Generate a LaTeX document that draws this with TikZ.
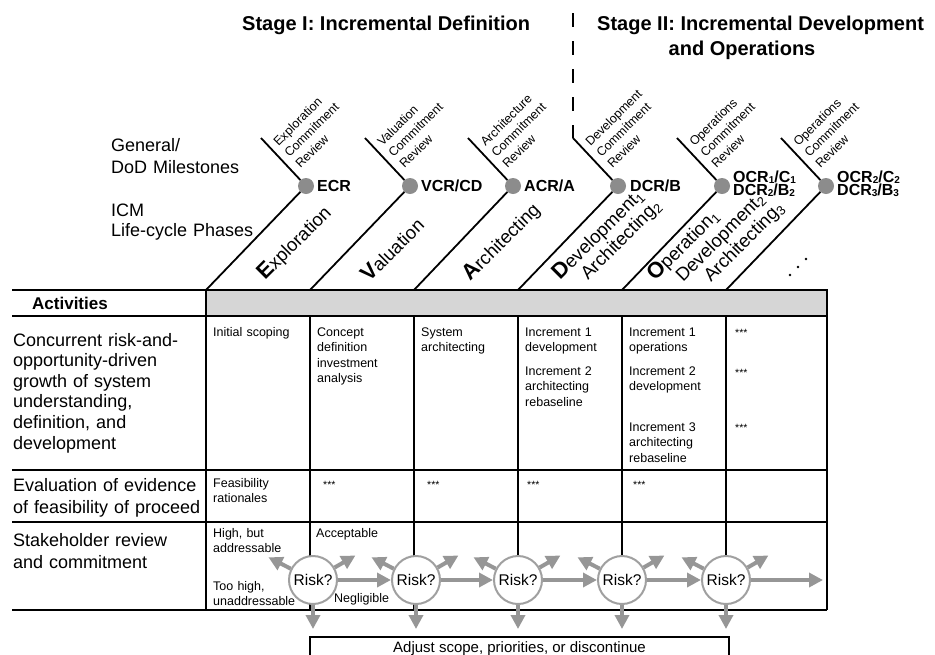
\documentclass[tikz,border=0pt]{standalone}
\usepackage{fontspec}
\setmainfont{Liberation Sans}
\usetikzlibrary{arrows.meta,calc}
\definecolor{agray}{RGB}{150,150,150}
\definecolor{cgray}{RGB}{160,160,160}
\definecolor{dgray}{RGB}{140,140,140}
\definecolor{bgray}{RGB}{214,214,214}
\newcommand\fsz[2]{\fontsize{#1}{#2}\selectfont}
\newcommand\firstl[1]{{\fsz{22}{22}\bfseries #1}}
\newcommand\msub[1]{\raisebox{-0.8pt}{\fsz{10}{10}\bfseries #1}}
\begin{document}
\begin{tikzpicture}[x=1pt,y=-1pt,
  tline/.style={line width=1.8pt,black},
  mline/.style={line width=1.8pt,black},
  mdot/.style={circle,fill=dgray,minimum size=16pt,inner sep=0pt},
  mlabel/.style={anchor=base west,inner sep=0pt,text width=80pt,align=left,font=\fsz{16}{12}\bfseries},
  mdesc/.style={rotate=45,anchor=north west,inner sep=0pt,text width=90pt,align=left,font=\fsz{12.5}{15.5}},
  phase/.style={rotate=45,anchor=base west,inner sep=0pt,font=\fsz{18.5}{20}},
  sidelab/.style={anchor=base west,inner sep=0pt,text width=150pt,align=left,font=\fsz{18}{21}},
  rowlab/.style={anchor=base west,inner sep=0pt,text width=192pt,align=left},
  cell/.style={anchor=base west,inner sep=0pt,text width=95pt,align=left,font=\fsz{12.5}{15.3}},
  stars/.style={anchor=base west,inner sep=0pt,font=\fsz{10.5}{12}},
  title/.style={inner sep=0pt,font=\fsz{20}{24}\bfseries},
  risk/.style={circle,draw=cgray,line width=2pt,fill=white,minimum size=48pt,inner sep=0pt,font=\fsz{15.5}{18}},
  garrow/.style={draw=agray,line width=4pt,-{Triangle[length=14pt,width=14pt]}},
]
\useasboundingbox (0,0) rectangle (935,654);

% titles
\node[title,anchor=base west] (st1) at (242,30.5) {Stage I: Incremental Definition};
\node[title,anchor=base west] (st2a) at (597,30.5) {Stage II: Incremental Development};
\node[title,anchor=base] (st2b) at (742,55) {and Operations};

% side labels
\node[sidelab] (gen) at (111,151.5) {General/\\[0.5pt]DoD Milestones};
\node[sidelab] (icm) at (111,216.5) {ICM\\[-1pt]Life-cycle Phases};

% table
\draw[tline,fill=bgray] (206,290) rectangle (827,316);
\draw[tline] (12,290) -- (206,290);
\draw[tline] (12,316) -- (827,316);
\draw[tline] (12,470) -- (827,470);
\draw[tline] (12,522) -- (827,522);
\draw[tline] (12,610) -- (827,610);
\draw[tline] (206,290) -- (206,610);
\draw[tline] (827,290) -- (827,610);
\foreach \x in {310,414,518,622,726} \draw[tline] (\x,316) -- (\x,610);

% milestone geometry
\coordinate (b1) at (206,290);
\coordinate (b2) at (310,290);
\coordinate (b3) at (414,290);
\coordinate (b4) at (518,290);
\coordinate (b5) at (622,290);
\coordinate (b6) at (726,290);
\node[mdot] (d1) at (306,186) {};
\node[mdot] (d2) at (410,186) {};
\node[mdot] (d3) at (513,186) {};
\node[mdot] (d4) at (618,186) {};
\node[mdot] (d5) at (722,186) {};
\node[mdot] (d6) at (826,186) {};
\coordinate (t1) at ($(d1)+(-45,-48)$);
\coordinate (t2) at ($(d2)+(-45,-48)$);
\coordinate (t3) at ($(d3)+(-45,-48)$);
\coordinate (t4) at ($(d4)+(-45,-48)$);
\coordinate (t5) at ($(d5)+(-45,-48)$);
\coordinate (t6) at ($(d6)+(-45,-48)$);
\draw[mline] (b1) -- (d1) -- (t1);
\draw[mline] (b2) -- (d2) -- (t2);
\draw[mline] (b3) -- (d3) -- (t3);
\draw[mline] (b4) -- (d4) -- (t4);
\draw[mline] (b5) -- (d5) -- (t5);
\draw[mline] (b6) -- (d6) -- (t6);
\coordinate (dtop) at (573,13);
\draw[mline,dash pattern=on 14pt off 14pt] (dtop) -- (t4);

% milestone descriptions
\node[mdesc] (m1) at ($(t1)+(11,2.5)$) {Exploration\\Commitment\\Review};
\node[mdesc] (m2) at ($(t2)+(11,2.5)$) {Valuation\\Commitment\\Review};
\node[mdesc] (m3) at ($(t3)+(11,2.5)$) {Architecture\\Commitment\\Review};
\node[mdesc] (m4) at ($(t4)+(11,2.5)$) {Development\\Commitment\\Review};
\node[mdesc] (m5) at ($(t5)+(11,2.5)$) {Operations\\Commitment\\Review};
\node[mdesc] (m6) at ($(t6)+(11,2.5)$) {Operations\\Commitment\\Review};

% milestone labels
\node[mlabel] (l1) at (317,191.7) {ECR};
\node[mlabel] (l2) at (421,191.7) {VCR/CD};
\node[mlabel] (l3) at (524,191.7) {ACR/A};
\node[mlabel] (l4) at (630,191.7) {DCR/B};
\node[mlabel] (l5) at (733,182.5) {OCR\msub{1}/C\msub{1}\\DCR\msub{2}/B\msub{2}};
\node[mlabel] (l6) at (837,182.5) {OCR\msub{2}/C\msub{2}\\DCR\msub{3}/B\msub{3}};

% phases
\node[phase] (p1) at (265,281) {\firstl{E}xploration};
\node[phase] (p2) at (369,283) {\firstl{V}aluation};
\node[phase] (p3) at (470,282) {\firstl{A}rchitecting};
\node[phase] (p4a) at (560,281) {\firstl{D}evelopment\textsubscript{1}};
\node[phase] (p4b) at (588,281) {Architecting\textsubscript{2}};
\node[phase] (p5a) at (655,282) {\firstl{O}peration\textsubscript{1}};
\node[phase] (p5b) at (683,283) {Development\textsubscript{2}};
\node[phase] (p5c) at (711,283) {Architecting\textsubscript{3}};
\fill (790,275) circle (1.3pt) (798,267) circle (1.3pt) (806,259) circle (1.3pt);

% row labels
\node[rowlab,font=\fsz{17}{17}\bfseries] (act) at (32,309) {Activities};
\node[rowlab,font=\fsz{18}{20.6}] (rl1) at (13,346) {Concurrent risk-and-\\opportunity-driven\\growth of system\\understanding,\\definition, and\\development};
\node[rowlab,font=\fsz{18}{22}] (rl2) at (13,491.5) {Evaluation of evidence\\of feasibility of proceed};
\node[rowlab,font=\fsz{18}{22}] (rl3) at (13,546.5) {Stakeholder review\\and commitment};

% row 1 cells
\node[cell] (c11) at (213,336.5) {Initial scoping};
\node[cell] (c12) at (317,336.5) {Concept\\definition\\investment\\analysis};
\node[cell] (c13) at (421,336.5) {System\\architecting};
\node[cell] (c14a) at (525,336.5) {Increment 1\\development};
\node[cell] (c14b) at (525,375.5) {Increment 2\\architecting\\rebaseline};
\node[cell] (c15a) at (629,336.5) {Increment 1\\operations};
\node[cell] (c15b) at (629,375.5) {Increment 2\\development};
\node[cell] (c15c) at (629,431.5) {Increment 3\\architecting\\rebaseline};
\node[stars] (s16a) at (735,336) {***};
\node[stars] (s16b) at (735,376) {***};
\node[stars] (s16c) at (735,431) {***};

% row 2 cells
\node[cell] (c21) at (213,487.5) {Feasibility\\rationales};
\node[stars] (s22) at (323,488) {***};
\node[stars] (s23) at (427,488) {***};
\node[stars] (s24) at (527,488) {***};
\node[stars] (s25) at (633,488) {***};

% risk flow
\node[risk] (r1) at (313,580) {Risk?};
\node[risk] (r2) at (416,580) {Risk?};
\node[risk] (r3) at (518,580) {Risk?};
\node[risk] (r4) at (622,580) {Risk?};
\node[risk] (r5) at (726,580) {Risk?};
\coordinate (rend) at (823,580);
\draw[garrow] (r1) -- (r2);
\draw[garrow] (r2) -- (r3);
\draw[garrow] (r3) -- (r4);
\draw[garrow] (r4) -- (r5);
\draw[garrow] (r5) -- (rend);
\foreach \i in {1,...,5} {
  \coordinate (ul\i) at ($(r\i)+(-153:50)$);
  \coordinate (ur\i) at ($(r\i)+(-30:49)$);
  \coordinate (dn\i) at ($(r\i)+(0,49)$);
  \draw[garrow] (r\i) -- (ul\i);
  \draw[garrow] (r\i) -- (ur\i);
  \draw[garrow] (r\i) -- (dn\i);
}

% row 3 cells
\node[cell] (c31a) at (213,537.5) {High, but\\addressable};
\node[cell] (c31b) at (213,590.5) {Too high,\\unaddressable};
\node[cell] (c32) at (316,537.5) {Acceptable};
\node[cell] (neg) at (334,602.5) {Negligible};

% adjust box
\node[draw,line width=1.8pt,anchor=north,minimum width=419pt,inner ysep=5pt,text height=10.7pt,text depth=20pt,font=\fsz{15}{18}] (adj) at (519.5,636) {Adjust scope, priorities, or discontinue};
\end{tikzpicture}
\end{document}
